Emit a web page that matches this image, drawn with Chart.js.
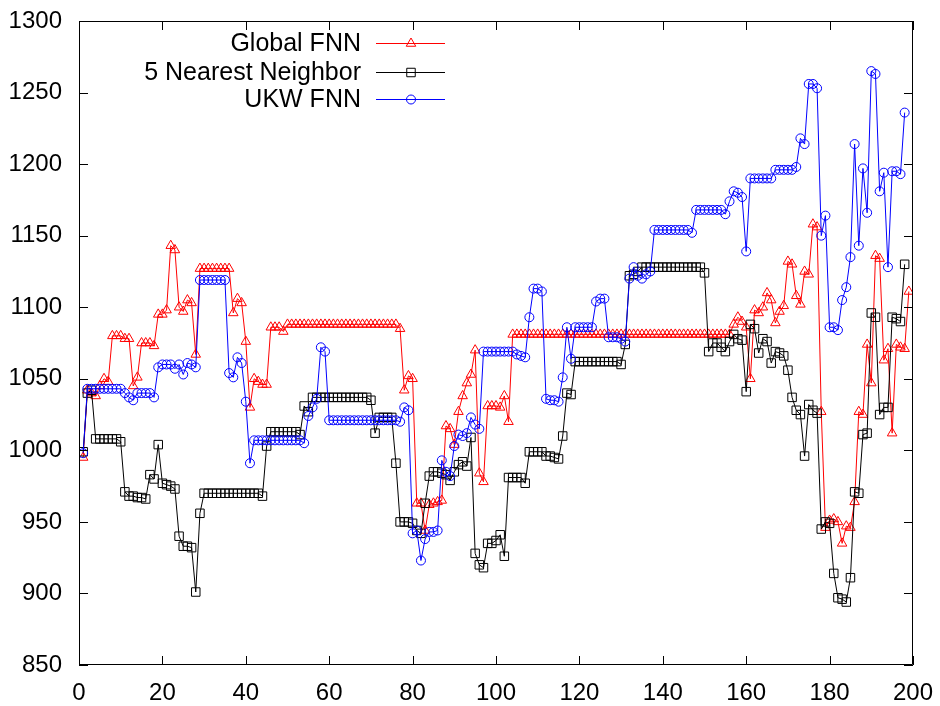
<!DOCTYPE html>
<html>
<head>
<meta charset="utf-8">
<script src="https://cdn.jsdelivr.net/npm/chart.js@4.4.1/dist/chart.umd.min.js"></script>
<style>
  html, body { margin: 0; padding: 0; background: #fff; }
</style>
</head>
<body>
<canvas id="c" width="940" height="706"></canvas>
<script>
// series values, one per step x = 1 .. 199
const globalFnn = [
  995, 1042, 1040, 1038, 1045, 1050, 1048, 1080, 1080, 1080,
  1078, 1078, 1045, 1051, 1075, 1075, 1075, 1073, 1095, 1095,
  1098, 1143, 1140, 1100, 1097, 1105, 1103, 1067, 1127, 1127,
  1127, 1127, 1127, 1127, 1127, 1127, 1096, 1106, 1103, 1076,
  1030, 1050, 1048, 1046, 1046, 1086, 1086, 1086, 1083, 1088,
  1088, 1088, 1088, 1088, 1088, 1088, 1088, 1088, 1088, 1088,
  1088, 1088, 1088, 1088, 1088, 1088, 1088, 1088, 1088, 1088,
  1088, 1088, 1088, 1088, 1088, 1088, 1085, 1042, 1052, 1050,
  963, 963, 944, 962, 963, 964, 965, 1017, 1015, 1004,
  1027, 1038, 1047, 1053, 1070, 984, 978, 1031, 1031, 1031,
  1030, 1038, 1020, 1081, 1081, 1081, 1081, 1081, 1081, 1081,
  1081, 1081, 1081, 1081, 1081, 1081, 1081, 1081, 1081, 1081,
  1081, 1081, 1081, 1081, 1081, 1081, 1081, 1081, 1081, 1081,
  1081, 1081, 1081, 1081, 1081, 1081, 1081, 1081, 1081, 1081,
  1081, 1081, 1081, 1081, 1081, 1081, 1081, 1081, 1081, 1081,
  1081, 1081, 1081, 1081, 1081, 1081, 1088, 1093, 1090, 1086,
  1050, 1098, 1096, 1100, 1110, 1105, 1089, 1097, 1101, 1132,
  1130, 1108, 1102, 1125, 1123, 1158, 1156, 1027, 946, 951,
  952, 950, 935, 947, 946, 964, 1027, 1025, 1074, 1047,
  1136, 1134, 1063, 1071, 1012, 1074, 1072, 1071, 1111
]
const nearest5 = [
  999, 1040, 1042, 1008, 1008, 1008, 1008, 1008, 1008, 1006,
  971, 968, 968, 967, 967, 966, 983, 980, 1004, 977,
  976, 975, 973, 940, 933, 933, 932, 901, 956, 970,
  970, 970, 970, 970, 970, 970, 970, 970, 970, 970,
  970, 970, 970, 968, 1003, 1013, 1013, 1013, 1013, 1013,
  1013, 1013, 1011, 1031, 1027, 1037, 1037, 1037, 1037, 1037,
  1037, 1037, 1037, 1037, 1037, 1037, 1037, 1037, 1037, 1035,
  1012, 1023, 1023, 1023, 1023, 991, 950, 950, 950, 949,
  944, 942, 963, 982, 985, 985, 984, 983, 979, 985,
  990, 992, 989, 1009, 928, 920, 918, 935, 935, 937,
  941, 926, 981, 981, 981, 981, 977, 999, 999, 999,
  999, 996, 996, 995, 994, 1010, 1040, 1039, 1062, 1062,
  1062, 1062, 1062, 1062, 1062, 1062, 1062, 1062, 1062, 1060,
  1074, 1122, 1123, 1125, 1128, 1128, 1128, 1128, 1128, 1128,
  1128, 1128, 1128, 1128, 1128, 1128, 1128, 1128, 1128, 1124,
  1069, 1075, 1075, 1072, 1069, 1076, 1081, 1078, 1077, 1041,
  1088, 1085, 1068, 1078, 1076, 1061, 1069, 1068, 1066, 1056,
  1037, 1028, 1025, 996, 1032, 1028, 1026, 945, 950, 949,
  914, 897, 896, 894, 911, 971, 970, 1011, 1012, 1096,
  1093, 1025, 1030, 1030, 1093, 1092, 1090, 1130
]
const ukwFnn = [
  998, 1043, 1043, 1043, 1043, 1043, 1043, 1043, 1043, 1043,
  1040, 1037, 1035, 1040, 1040, 1040, 1040, 1037, 1058, 1060,
  1060, 1060, 1057, 1060, 1053, 1061, 1060, 1058, 1119, 1119,
  1119, 1119, 1119, 1119, 1119, 1054, 1051, 1065, 1061, 1034,
  991, 1007, 1007, 1007, 1007, 1007, 1007, 1007, 1007, 1007,
  1007, 1007, 1007, 1005, 1024, 1030, 1036, 1072, 1069, 1021,
  1021, 1021, 1021, 1021, 1021, 1021, 1021, 1021, 1021, 1021,
  1021, 1021, 1021, 1021, 1021, 1021, 1020, 1030, 1028, 942,
  944, 923, 938, 943, 943, 944, 993, 985, 982, 1003,
  1011, 1010, 1012, 1023, 1018, 1015, 1069, 1069, 1069, 1069,
  1069, 1069, 1069, 1069, 1067, 1066, 1065, 1093, 1113, 1113,
  1111, 1036, 1035, 1035, 1034, 1051, 1086, 1064, 1086, 1086,
  1086, 1086, 1086, 1104, 1106, 1106, 1079, 1079, 1079, 1078,
  1076, 1120, 1128, 1122, 1120, 1123, 1125, 1154, 1154, 1154,
  1154, 1154, 1154, 1154, 1154, 1154, 1152, 1168, 1168, 1168,
  1168, 1168, 1168, 1168, 1165, 1174, 1181, 1180, 1177, 1139,
  1190, 1190, 1190, 1190, 1190, 1190, 1196, 1196, 1196, 1196,
  1196, 1198, 1218, 1214, 1256, 1256, 1253, 1150, 1164, 1086,
  1086, 1084, 1105, 1114, 1135, 1214, 1143, 1197, 1166, 1265,
  1263, 1181, 1194, 1128, 1195, 1195, 1193, 1236
]

const seriesNames = ['Global FNN', '5 Nearest Neighbor', 'UKW FNN']
const seriesColors = ['#ff0000', '#000000', '#0000ff']
const seriesMarkers = ['triangle', 'rect', 'circle']
const markerRadius = [5.5, 6, 4.5]

const xTicks = [0, 20, 40, 60, 80, 100, 120, 140, 160, 180, 200]
const yTicks = [850, 900, 950, 1000, 1050, 1100, 1150, 1200, 1250, 1300]

const FONT = '"Liberation Sans", Arial, Helvetica, sans-serif'

function toPoints(values) { // step number starts at 1
  return values.map((v, i) => ({x: i + 1, y: v}))
}

const allSeries = [globalFnn, nearest5, ukwFnn]
const datasets = allSeries.map((values, i) => ({
  label: seriesNames[i],
  data: toPoints(values),
  borderColor: seriesColors[i],
  borderWidth: 1,
  pointStyle: seriesMarkers[i],
  pointRadius: markerRadius[i],
  pointBorderColor: seriesColors[i],
  pointBackgroundColor: 'rgba(0,0,0,0)',
  pointBorderWidth: 1,
  tension: 0,
  fill: false,
  order: 2 - i // later series on top, like gnuplot
}))

// border box with inward ticks on all four sides, plus the key
const framePlugin = {
  id: 'frame',
  afterDraw(chart) {
    const ctx = chart.ctx
    const {left, right, top, bottom} = chart.chartArea
    const sx = chart.scales.x, sy = chart.scales.y
    const tl = 9

    ctx.save()
    ctx.strokeStyle = '#000'
    ctx.lineWidth = 1
    ctx.beginPath()
    ctx.rect(left + 0.5, top + 0.5, right - left - 1, bottom - top - 1)
    for (const v of xTicks) {
      const px = Math.round(sx.getPixelForValue(v)) + 0.5
      ctx.moveTo(px, bottom); ctx.lineTo(px, bottom - tl)
      ctx.moveTo(px, top); ctx.lineTo(px, top + tl)
    }
    for (const v of yTicks) {
      const py = Math.round(sy.getPixelForValue(v)) + 0.5
      ctx.moveTo(left, py); ctx.lineTo(left + tl, py)
      ctx.moveTo(right, py); ctx.lineTo(right - tl, py)
    }
    ctx.stroke()

    // key
    const keyTextX = 361, keyLine0 = 376, keyLine1 = 445, keyMark = 411
    const keyRows = [43, 72, 99]
    ctx.font = '25px ' + FONT
    ctx.textAlign = 'right'
    ctx.textBaseline = 'middle'
    for (let i = 0; i < seriesNames.length; i++) {
      const y = keyRows[i]
      ctx.fillStyle = '#000'
      ctx.fillText(seriesNames[i], keyTextX, y + 1)
      ctx.strokeStyle = seriesColors[i]
      ctx.beginPath()
      ctx.moveTo(keyLine0, y + 0.5); ctx.lineTo(keyLine1, y + 0.5)
      ctx.stroke()
      ctx.fillStyle = 'rgba(0,0,0,0)'
      Chart.helpers.drawPoint(ctx, {
        pointStyle: seriesMarkers[i], radius: markerRadius[i], borderWidth: 1, rotation: 0
      }, keyMark, y + 0.5)
    }
    ctx.restore()
  }
}

// drop the label overhang padding so the plot box sits where the layout says
function noOverhang(s) {
  s.paddingTop = 0; s.paddingBottom = 0
  s.paddingLeft = 0; s.paddingRight = 0
}

new Chart(document.getElementById('c'), {
  type: 'line',
  data: {datasets},
  options: {
    responsive: false,
    animation: false,
    layout: {padding: {top: 21, right: 27, bottom: 0, left: 0}},
    plugins: {legend: {display: false}, tooltip: {enabled: false}},
    scales: {
      x: {
        type: 'linear', min: 0, max: 200,
        afterBuildTicks: s => { s.ticks = xTicks.map(v => ({value: v})) },
        afterFit: s => { s.height = 41; noOverhang(s) },
        grid: {display: false, drawTicks: false},
        border: {display: false},
        ticks: {padding: 14, color: '#000', maxRotation: 0, autoSkip: false,
          font: {family: FONT, size: 24}, callback: v => String(v)}
      },
      y: {
        min: 850, max: 1300,
        afterBuildTicks: s => { s.ticks = yTicks.map(v => ({value: v})) },
        afterFit: s => { s.width = 79; noOverhang(s) },
        grid: {display: false, drawTicks: false},
        border: {display: false},
        ticks: {padding: 17, color: '#000', font: {family: FONT, size: 24},
          callback: v => String(v)}
      }
    }
  },
  plugins: [framePlugin]
})
</script>
</body>
</html>
